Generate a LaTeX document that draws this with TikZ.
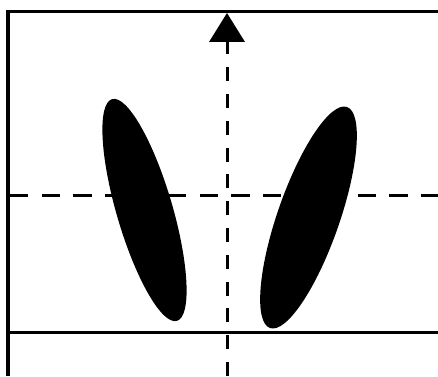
\documentclass[tikz,border=0pt]{standalone}
\usetikzlibrary{arrows.meta}
\tikzstyle{frameline} = [line width=0.075cm, black]
\tikzstyle{haxis}     = [line width=0.075cm, dash pattern=on 0.46cm off 0.33cm]
\tikzstyle{vaxis}     = [line width=0.075cm, dash pattern=on 0.35cm off 0.32cm,
                         -{Triangle[width=0.875cm,length=0.72cm]}]
\tikzstyle{lobe}      = [fill=black]
\begin{document}
\begin{tikzpicture}[x=0.025cm, y=0.025cm]
                \useasboundingbox (0,0) rectangle (438,376);
                \coordinate (tl) at (8,364);
                \coordinate (tr) at (438,364);
                \coordinate (bl) at (8,0);
                \coordinate (sl) at (8,44);
                \coordinate (sr) at (438,44);
                \coordinate (hl) at (10,181);
                \coordinate (hr) at (438,181);
                \coordinate (vb) at (227,0);
                \coordinate (vt) at (227,363);
                \coordinate (lc) at (144.5,166);
                \coordinate (rc) at (308.5,158.5);
                \draw[frameline] (bl) -- (tl) -- (tr);
                \draw[frameline] (sl) -- (sr);
                \draw[haxis] (hl) -- (hr);
                \draw[vaxis] (vb) -- (vt);
                \fill[lobe, rotate around={16.3:(lc)}] (lc) ellipse [x radius=28, y radius=115.5];
                \fill[lobe, rotate around={-19.2:(rc)}] (rc) ellipse [x radius=31, y radius=117];
            \end{tikzpicture}
\end{document}
